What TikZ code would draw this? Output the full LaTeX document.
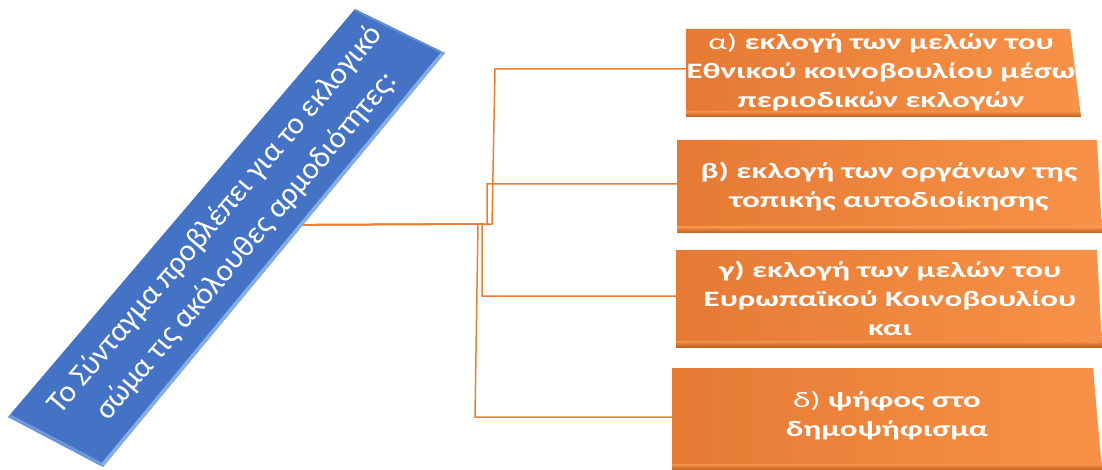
\documentclass[tikz,border=0pt]{standalone}
\usepackage{fontspec}
\setmainfont{Carlito}
\newfontfamily\widefont[FakeStretch=1.5]{Carlito}
\usetikzlibrary{calc}
\definecolor{bluebox}{RGB}{68,114,196}
\definecolor{bluelight}{RGB}{150,190,240}
\definecolor{orA}{RGB}{230,122,52}
\definecolor{orB}{RGB}{247,146,72}
\definecolor{orDark}{RGB}{190,95,30}
\definecolor{conn}{RGB}{237,125,49}
\begin{document}
\begin{tikzpicture}[x=1pt,y=-1pt,
  optext/.style={text=white,font=\widefont\fontsize{22}{29}\selectfont\bfseries,align=center,inner sep=0pt},
  qtext/.style={text=white,font=\fontsize{31}{41}\selectfont,align=center,inner sep=0pt},
  connline/.style={draw=conn,line width=1.5pt},
  obox/.style={left color=orA,right color=orB},
  obevel/.style={top color=orB,bottom color=orDark}]
\useasboundingbox (0,0) rectangle (1102,470);

% blue parallelogram
\coordinate (c1) at (355,9);
\coordinate (c2) at (445,53);
\coordinate (c3) at (103,467);
\coordinate (c4) at (8,417);
\fill[bluebox] (c1) -- (c2) -- (c3) -- (c4) -- cycle;
\begin{scope}
  \clip (c1) -- (c2) -- (c3) -- (c4) -- cycle;
  \draw[bluelight,line width=7pt,opacity=0.8] (c2) -- (c3);
  \draw[bluelight!70!bluebox,line width=7pt,opacity=0.7] (c3) -- (c4);
  \draw[bluelight!60!bluebox,line width=4pt,opacity=0.6] (c1) -- (c2);
\end{scope}
\node[qtext,rotate=49.6] (q) at (231,233) {Το Σύνταγμα προβλέπει για το εκλογικό\\σώμα τις ακόλουθες αρμοδιότητες:};
\coordinate (src) at ($(c2)!0.415!(c3)$);

% orange boxes
\shade[obox] (686,29) -- (1070,29) -- (1081,117) -- (686,117) -- cycle;
\shade[obevel] (686,111) -- (1080,111) -- (1081,117) -- (686,117) -- cycle;
\shade[obox] (677,140) -- (1097,140) -- (1102,233) -- (677,233) -- cycle;
\shade[obevel] (677,227) -- (1102,227) -- (1102,233) -- (677,233) -- cycle;
\shade[obox] (676,250) -- (1097,250) -- (1102,347) -- (676,347) -- cycle;
\shade[obevel] (676,341) -- (1102,341) -- (1102,347) -- (676,347) -- cycle;
\shade[obox] (672,368) -- (1093,368) -- (1102,470) -- (672,470) -- cycle;
\shade[obevel] (672,464) -- (1102,464) -- (1102,470) -- (672,470) -- cycle;

\node[optext,minimum width=390pt,minimum height=88pt] (a) at (881,72)
  {{\mdseries α)} εκλογή των μελών του\\Εθνικού κοινοβουλίου μέσω\\περιοδικών εκλογών};
\node[optext,minimum width=423pt,minimum height=93pt] (b) at (889,186.5)
  {β) εκλογή των οργάνων της\\τοπικής αυτοδιοίκησης};
\node[optext,minimum width=424pt,minimum height=97pt] (c) at (890,298.5)
  {γ) εκλογή των μελών του\\Ευρωπαϊκού Κοινοβουλίου\\και};
\node[optext,minimum width=428pt,minimum height=102pt] (d) at (887,416)
  {{\mdseries δ)} ψήφος στο\\δημοψήφισμα};

% connectors
\draw[connline] (src) -- (492,224) -- (495,69) -- ([yshift=3pt]a.west);
\draw[connline] (src) -- (487,224) -- (487,184) -- ([yshift=2.5pt]b.west);
\draw[connline] (src) -- (482,224) -- (482,296) -- ([yshift=2.5pt]c.west);
\draw[connline] (src) -- (478,224) -- (475,417) -- ([yshift=-1pt]d.west);
\end{tikzpicture}
\end{document}
